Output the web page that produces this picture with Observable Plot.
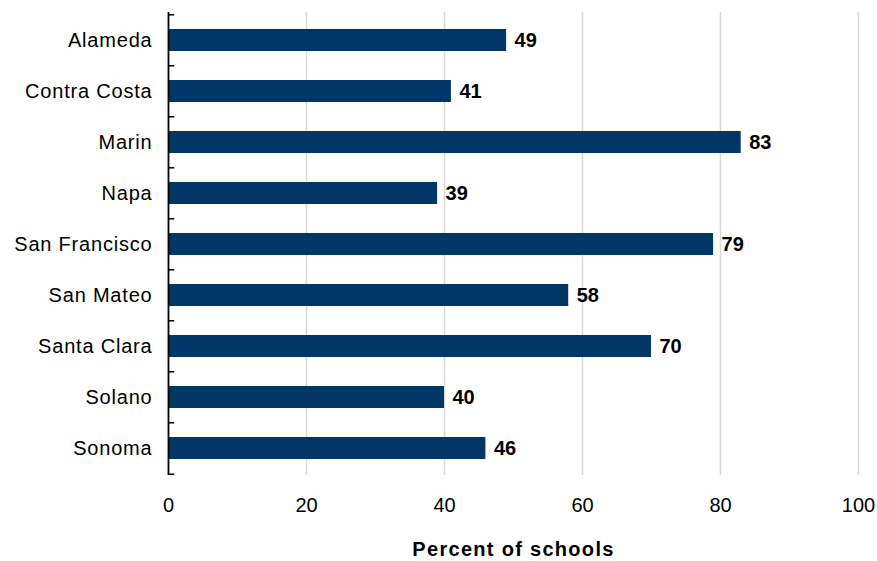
<!DOCTYPE html>
<html><head><meta charset="utf-8">
<script src="https://cdn.jsdelivr.net/npm/d3@7"></script>
<script src="https://cdn.jsdelivr.net/npm/@observablehq/plot@0.6"></script>
<style>
body{margin:0;background:#fff}
g[aria-label="y-axis tick label"] text{letter-spacing:0.8px}
g[aria-description="xlabel"] text{letter-spacing:1.3px}
</style>
</head><body><div id="chart"></div>
<script>
const counties = ["Alameda","Contra Costa","Marin","Napa","San Francisco","San Mateo","Santa Clara","Solano","Sonoma"];
const percents = [49,41,83,39,79,58,70,40,46];
const xTicks = [0,20,40,60,80,100];
const gridTicks = [20,40,60,80,100];
const xLabel = "Percent of schools";

const data = counties.map((c,i)=>({county:c, value:percents[i]}));
const W = 877, H = 561, mt = 12, mb = 86;
const band = (H - mt - mb) / counties.length;

const chart = Plot.plot({
  width: W, height: H,
  marginTop: mt, marginBottom: mb, marginLeft: 168, marginRight: 19,
  style: {fontFamily: "'Liberation Sans', Arial, sans-serif", fontSize: "20px", color: "#000", background: "#fff"},
  x: {domain: [0,100], ticks: xTicks},
  y: {domain: counties, paddingInner: 0.57, paddingOuter: 0.285},
  marks: [
    Plot.ruleX(gridTicks, {stroke: "#d9d9d9", strokeWidth: 1.5}),
    Plot.barX(data, {x: "value", y: "county", fill: "#003767"}),
    Plot.text(data, {x: "value", y: "county", text: d => String(d.value), textAnchor: "start", dx: 8, dy: 0, fontWeight: "bold", fontSize: 20, fill: "#000"}),
    Plot.ruleX([0], {stroke: "#000", strokeWidth: 1.8}),
    Plot.ruleY(counties, {y: d => d, x1: 0, x2: 0.9, dy: -band/2, stroke: "#000", strokeWidth: 1.5}),
    Plot.ruleY([counties[counties.length-1]], {y: d => d, x1: 0, x2: 0.9, dy: band/2, stroke: "#000", strokeWidth: 1.5}),
    Plot.axisY({tickSize: 0, tickPadding: 16, fontSize: 20, label: null}),
    Plot.axisX({ticks: xTicks, tickSize: 0, tickPadding: 22, fontSize: 20, label: null}),
    Plot.text([xLabel], {frameAnchor: "bottom", dy: 80, text: d => d, fontWeight: "bold", fontSize: 20, fill: "#000", lineAnchor: "bottom", ariaDescription: "xlabel"})
  ]
});
document.getElementById("chart").appendChild(chart);
</script></body></html>
